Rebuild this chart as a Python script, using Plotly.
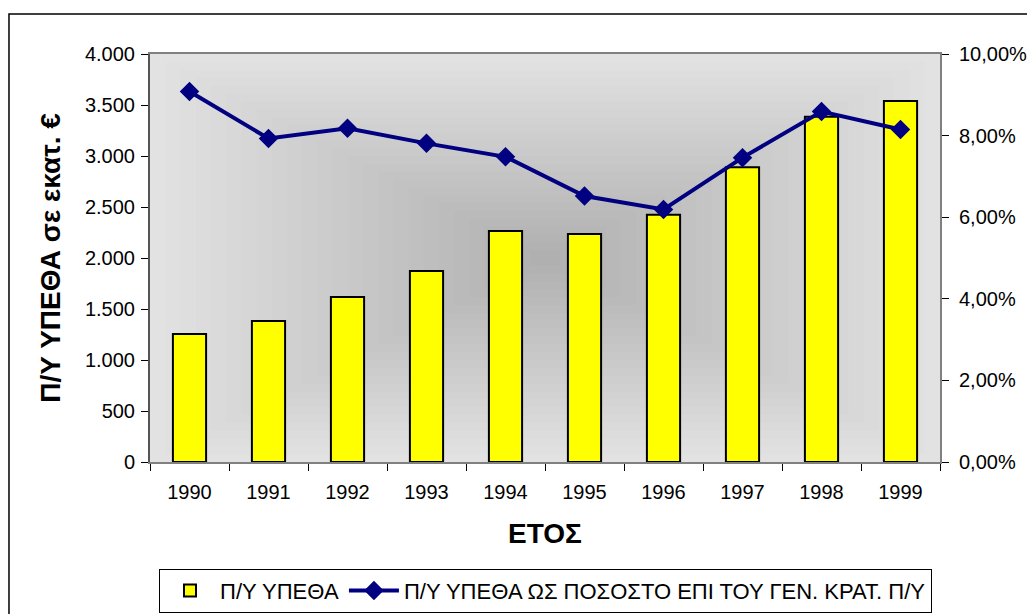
import plotly.graph_objects as go

# data
years = ["1990", "1991", "1992", "1993", "1994", "1995", "1996", "1997", "1998", "1999"]
budget = [1255, 1382, 1618, 1873, 2265, 2235, 2425, 2889, 3385, 3539]
share_pct = [0.0908, 0.0793, 0.0818, 0.0781, 0.0748, 0.0652, 0.0619, 0.0746, 0.0859, 0.0815]

bar_name = "Π/Υ ΥΠΕΘΑ"
line_name = "Π/Υ ΥΠΕΘΑ ΩΣ ΠΟΣΟΣΤΟ ΕΠΙ ΤΟΥ ΓΕΝ. ΚΡΑΤ. Π/Υ"

font_family = "Liberation Sans, Arial, sans-serif"

fig = go.Figure()

fig.add_trace(go.Bar(
    x=years,
    y=budget,
    name=bar_name,
    width=0.42,
    marker=dict(color="#FFFF00", line=dict(color="black", width=2)),
    yaxis="y"
))

fig.add_trace(go.Scatter(
    x=years,
    y=share_pct,
    name=line_name,
    mode="lines+markers",
    line=dict(color="#000080", width=4),
    marker=dict(symbol="diamond", size=15, color="#000080"),
    yaxis="y2"
))

# "from centre" gray gradient: concentric translucent rectangles
shapes = []
steps = 26
for i in range(steps):
    f = i / steps
    half = 0.5 * (1 - f)
    shapes.append(dict(
        type="rect", xref="x domain", yref="y domain", layer="below",
        x0=0.5 - half, x1=0.5 + half,
        y0=0.5 - half, y1=0.5 + half,
        fillcolor="black", opacity=0.0072, line=dict(width=0)
    ))

# outer chart frame
shapes.append(dict(
    type="rect", xref="paper", yref="paper",
    x0=-0.1785, x1=1.25, y0=-0.5, y1=1.098,
    line=dict(color="black", width=1.5), fillcolor="rgba(0,0,0,0)"
))

fig.update_layout(
    width=1027,
    height=606,
    margin=dict(l=142, r=95, t=46, b=152),
    paper_bgcolor="white",
    plot_bgcolor="#e4e4e4",
    separators=",.",
    font=dict(family=font_family, size=20, color="black"),
    showlegend=True,
    shapes=shapes,
    xaxis=dict(
        type="category", automargin=False,
        range=[-0.5, len(years) - 0.5],
        showline=True, linecolor="#808080", linewidth=2, mirror=True,
        ticks="outside", tickson="boundaries", ticklen=7, tickcolor="black",
        ticklabelstandoff=11,
        showgrid=False,
        title=dict(text="<b>ΕΤΟΣ</b>", font=dict(size=28), standoff=21),
    ),
    yaxis=dict(
        range=[0, 4000], dtick=500, tickformat=",d", automargin=False,
        showline=True, linecolor="#555555", linewidth=2,
        ticks="outside", ticklen=7, tickcolor="black",
        ticklabelstandoff=2,
        showgrid=False, zeroline=False,
        title=dict(text="<b>Π/Υ ΥΠΕΘΑ σε εκατ. €</b>", font=dict(size=28), standoff=16),
    ),
    yaxis2=dict(
        overlaying="y", side="right", automargin=False,
        range=[0, 0.10], dtick=0.02, tickformat=".2%",
        showline=True, linecolor="#808080", linewidth=2,
        ticks="outside", ticklen=7, tickcolor="black",
        ticklabelstandoff=6,
        showgrid=False, zeroline=False,
    ),
    legend=dict(
        orientation="h",
        xref="container", yref="container",
        x=151 / 1027, xanchor="left",
        y=0.002, yanchor="bottom",
        bordercolor="black", borderwidth=1,
        bgcolor="white",
        font=dict(size=22),
        itemwidth=50,
        tracegroupgap=0,
    ),
)

fig.write_html("out.html")
